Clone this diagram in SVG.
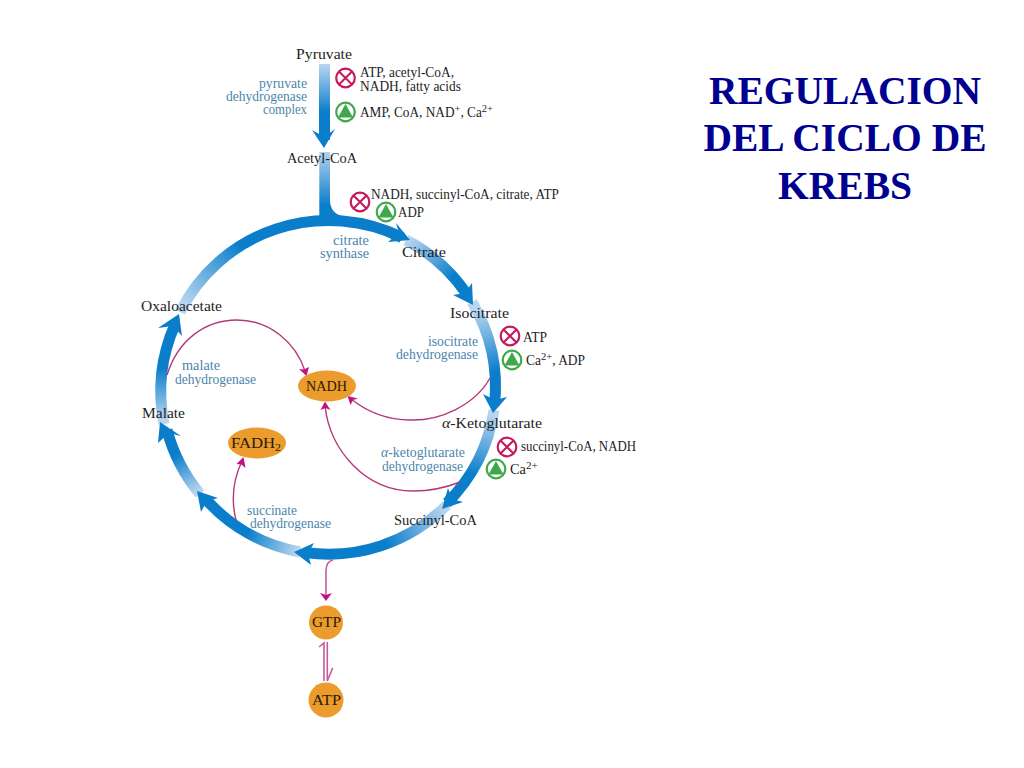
<svg xmlns="http://www.w3.org/2000/svg" width="1024" height="768" viewBox="0 0 1024 768">
<style>
text{font-family:"Liberation Serif","Times New Roman",serif}
.k{font-size:15px;fill:#1e1e1e}
.f{font-size:14px;fill:#1e1e1e}
.b{font-size:14px;fill:#4b86ab}
.n{font-size:15.500px;fill:#2a1a08;text-anchor:middle}
.t{font-size:39.500px;font-weight:bold;fill:#000090;text-anchor:middle}
.s{fill:none;stroke-width:11}
.h{fill:#0a7ecb}
.m{fill:none;stroke:#b23a78;stroke-width:1.400}
.p{fill:none;stroke:#c55a9e;stroke-width:1.600}
.a{fill:#c2127f}
.e{fill:#ec9b2d}
.xc{fill:#fff;stroke:#c4195a;stroke-width:2.200}
.xp{fill:none;stroke:#c4195a;stroke-width:2}
.gc{fill:#fff;stroke:#3fa84a;stroke-width:2.200}
.gp{fill:#3fa84a}
</style>
<defs>
<linearGradient id="g0" gradientUnits="userSpaceOnUse" x1="0" y1="64" x2="0" y2="112"><stop offset="0" stop-color="#b9d6f0"/><stop offset="1" stop-color="#0a7ecb"/></linearGradient>
<linearGradient id="g1" gradientUnits="userSpaceOnUse" x1="0" y1="150" x2="0" y2="205"><stop offset="0" stop-color="#b9d6f0"/><stop offset="1" stop-color="#0a7ecb"/></linearGradient>
<linearGradient id="g2" gradientUnits="userSpaceOnUse" x1="185" y1="305" x2="240" y2="245"><stop offset="0" stop-color="#b9d6f0"/><stop offset="1" stop-color="#0a7ecb"/></linearGradient>
<linearGradient id="g3" gradientUnits="userSpaceOnUse" x1="408" y1="240" x2="452" y2="278"><stop offset="0" stop-color="#b9d6f0"/><stop offset="1" stop-color="#0a7ecb"/></linearGradient>
<linearGradient id="g4" gradientUnits="userSpaceOnUse" x1="476" y1="310" x2="494" y2="372"><stop offset="0" stop-color="#b9d6f0"/><stop offset="1" stop-color="#0a7ecb"/></linearGradient>
<linearGradient id="g5" gradientUnits="userSpaceOnUse" x1="492" y1="415" x2="474" y2="475"><stop offset="0" stop-color="#b9d6f0"/><stop offset="1" stop-color="#0a7ecb"/></linearGradient>
<linearGradient id="g6" gradientUnits="userSpaceOnUse" x1="445" y1="508" x2="385" y2="542"><stop offset="0" stop-color="#b9d6f0"/><stop offset="1" stop-color="#0a7ecb"/></linearGradient>
<linearGradient id="g7" gradientUnits="userSpaceOnUse" x1="298" y1="552" x2="248" y2="532"><stop offset="0" stop-color="#b9d6f0"/><stop offset="1" stop-color="#0a7ecb"/></linearGradient>
<linearGradient id="g8" gradientUnits="userSpaceOnUse" x1="198" y1="492" x2="176" y2="455"><stop offset="0" stop-color="#b9d6f0"/><stop offset="1" stop-color="#0a7ecb"/></linearGradient>
<linearGradient id="g9" gradientUnits="userSpaceOnUse" x1="165" y1="420" x2="164" y2="368"><stop offset="0" stop-color="#b9d6f0"/><stop offset="1" stop-color="#0a7ecb"/></linearGradient>
<g id="ix"><circle class="xc" r="9.300"/><path class="xp" d="M-6.500-6.500L6.500 6.500M6.500-6.500L-6.500 6.500"/></g>
<g id="ig"><circle class="gc" r="9.300"/><path class="gp" d="M0-8L7.500 5.500H-7.500Z"/></g>
</defs>

<g id="connectors">
<path class="s" stroke="url(#g0)" d="M324.500 64V140"/>
<path class="s" stroke="url(#g2)" d="M180 312A166.500 166.500 0 0 1 402 237.500"/>
<path d="M319.300 152H330V200Q330 214 345 217L345 226H319.300Z" fill="url(#g1)"/>
<path class="s" stroke="url(#g3)" d="M406 240A166.500 166.500 0 0 1 466 293"/>
<path class="s" stroke="url(#g4)" d="M472 302A166.500 166.500 0 0 1 494.500 405"/>
<path class="s" stroke="url(#g5)" d="M494 410A166.500 166.500 0 0 1 447 503"/>
<path class="s" stroke="url(#g6)" d="M447 505A166.500 166.500 0 0 1 305 552.500"/>
<path class="s" stroke="url(#g7)" d="M300 552A166.500 166.500 0 0 1 206 499.500"/>
<path class="s" stroke="url(#g8)" d="M200 494A166.500 166.500 0 0 1 167 430"/>
<path class="s" stroke="url(#g9)" d="M164 424A166.500 166.500 0 0 1 175 324.500"/>

<path class="h" d="M312 130L324.500 137L335 129L324 148Z"/>
<path class="h" d="M410 240L396 223L399 233L388 242Z"/>
<path class="h" d="M473 305L472 283L465 293L453 295Z"/>
<path class="h" d="M493 413L483 394L495 400L507 397Z"/>
<path class="h" d="M442 509L448 488L452 499L463 502Z"/>
<path class="h" d="M294 552L314 543L308 553.500L311 565Z"/>
<path class="h" d="M197 491L218 498L207 501L201 512Z"/>
<path class="h" d="M160 422L181 436L169 433L158 443Z"/>
<path class="h" d="M179 314L182 336L173 326L158 328Z"/>

<path class="m" d="M167 375C178 340 205 320 237 320C270 320 296 343 305 371"/>
<path class="a" d="M306.500 376L299 369L304 369.500L309 367Z"/>
<path class="m" d="M490 378C475 405 440 421 410 420C385 420 365 410 351 399"/>
<path class="a" d="M347.500 396L358 398.500L353 400L350.500 405Z"/>
<path class="m" d="M460 482C440 490 425 491 413 491C365 491 330 450 325 406"/>
<path class="a" d="M325 401.500L330.500 410L325.500 408L320.500 410Z"/>
<path class="m" d="M236 520C231 500 233 480 242 461"/>
<path class="a" d="M243.500 457L245.500 468L241.500 464.500L236.500 464Z"/>
<path class="p" d="M333 560C328 561 326 565 326 571V596" stroke-width="2"/>
<path class="a" d="M326 601L320 593L326 595L332 593Z"/>
<path class="p" d="M327.300 642V681L332.700 668"/>
<path class="p" d="M324 681V643L319 647"/>
</g>

<g id="node-nadh"><ellipse class="e" cx="327" cy="386" rx="29" ry="15.500"/><text class="n" x="326.500" y="391" textLength="41" lengthAdjust="spacingAndGlyphs">NADH</text></g>
<g id="node-fadh2"><ellipse class="e" cx="257" cy="443" rx="29" ry="15.500"/><text class="n" x="256" y="448" textLength="50" lengthAdjust="spacingAndGlyphs">FADH<tspan font-size="11" dy="3">2</tspan></text></g>
<g id="node-gtp"><circle class="e" cx="326" cy="622.500" r="17"/><text class="n" x="326.500" y="627" textLength="29" lengthAdjust="spacingAndGlyphs">GTP</text></g>
<g id="node-atp"><circle class="e" cx="326" cy="700" r="17.500"/><text class="n" x="326.500" y="705" textLength="29" lengthAdjust="spacingAndGlyphs">ATP</text></g>

<g id="regulators">
<use href="#ix" x="345.500" y="78"/>
<use href="#ig" x="345.500" y="112"/>
<use href="#ix" x="360" y="202"/>
<use href="#ig" x="386" y="212"/>
<use href="#ix" x="510" y="336"/>
<use href="#ig" x="512" y="360"/>
<use href="#ix" x="507" y="447"/>
<use href="#ig" x="496" y="469"/>
</g>

<g id="metabolites" transform="translate(0 .8)">
<text class="k" x="296" y="58" textLength="56" lengthAdjust="spacingAndGlyphs">Pyruvate</text>
<text class="k" x="287" y="162" textLength="70" lengthAdjust="spacingAndGlyphs">Acetyl-CoA</text>
<text class="k" x="402" y="256" textLength="44" lengthAdjust="spacingAndGlyphs">Citrate</text>
<text class="k" x="450" y="317" textLength="59" lengthAdjust="spacingAndGlyphs">Isocitrate</text>
<text class="k" x="442" y="427" textLength="100" lengthAdjust="spacingAndGlyphs"><tspan font-style="italic">α</tspan>-Ketoglutarate</text>
<text class="k" x="394" y="524" textLength="83" lengthAdjust="spacingAndGlyphs">Succinyl-CoA</text>
<text class="k" x="141" y="310" textLength="81" lengthAdjust="spacingAndGlyphs">Oxaloacetate</text>
<text class="k" x="142" y="417" textLength="43" lengthAdjust="spacingAndGlyphs">Malate</text>
</g>

<g id="effectors" transform="translate(0 .8)">
<text class="f" x="360" y="76" textLength="94" lengthAdjust="spacingAndGlyphs">ATP, acetyl-CoA,</text>
<text class="f" x="360" y="90" textLength="101" lengthAdjust="spacingAndGlyphs">NADH, fatty acids</text>
<text class="f" x="360" y="116" textLength="133" lengthAdjust="spacingAndGlyphs">AMP, CoA, NAD<tspan font-size="11" dy="-5">+</tspan><tspan dy="5">, Ca</tspan><tspan font-size="11" dy="-5">2+</tspan></text>
<text class="f" x="371" y="198" textLength="188" lengthAdjust="spacingAndGlyphs">NADH, succinyl-CoA, citrate, ATP</text>
<text class="f" x="398" y="216" textLength="26" lengthAdjust="spacingAndGlyphs">ADP</text>
<text class="f" x="523" y="341" textLength="24" lengthAdjust="spacingAndGlyphs">ATP</text>
<text class="f" x="526" y="364" textLength="59" lengthAdjust="spacingAndGlyphs">Ca<tspan font-size="11" dy="-5">2+</tspan><tspan dy="5">, ADP</tspan></text>
<text class="f" x="521" y="450" textLength="115" lengthAdjust="spacingAndGlyphs">succinyl-CoA, NADH</text>
<text class="f" x="510" y="473" textLength="28" lengthAdjust="spacingAndGlyphs">Ca<tspan font-size="11" dy="-5">2+</tspan></text>
</g>

<g id="enzymes" transform="translate(0 .8)">
<text class="b" x="259" y="87" textLength="48" lengthAdjust="spacingAndGlyphs">pyruvate</text>
<text class="b" x="226" y="100" textLength="81" lengthAdjust="spacingAndGlyphs">dehydrogenase</text>
<text class="b" x="263" y="113" textLength="44" lengthAdjust="spacingAndGlyphs">complex</text>
<text class="b" x="333" y="244" textLength="36" lengthAdjust="spacingAndGlyphs">citrate</text>
<text class="b" x="320" y="257" textLength="49" lengthAdjust="spacingAndGlyphs">synthase</text>
<text class="b" x="428" y="345" textLength="50" lengthAdjust="spacingAndGlyphs">isocitrate</text>
<text class="b" x="396" y="358" textLength="82" lengthAdjust="spacingAndGlyphs">dehydrogenase</text>
<text class="b" x="381" y="456" textLength="84" lengthAdjust="spacingAndGlyphs"><tspan font-style="italic">α</tspan>-ketoglutarate</text>
<text class="b" x="382" y="470" textLength="81" lengthAdjust="spacingAndGlyphs">dehydrogenase</text>
<text class="b" x="182" y="369" textLength="38" lengthAdjust="spacingAndGlyphs">malate</text>
<text class="b" x="175" y="383" textLength="81" lengthAdjust="spacingAndGlyphs">dehydrogenase</text>
<text class="b" x="247" y="514" textLength="50" lengthAdjust="spacingAndGlyphs">succinate</text>
<text class="b" x="250" y="527" textLength="81" lengthAdjust="spacingAndGlyphs">dehydrogenase</text>
</g>

<g id="title">
<text class="t" x="845" y="103.500">REGULACION</text>
<text class="t" x="845" y="151">DEL CICLO DE</text>
<text class="t" x="845" y="198.500">KREBS</text>
</g>
</svg>
